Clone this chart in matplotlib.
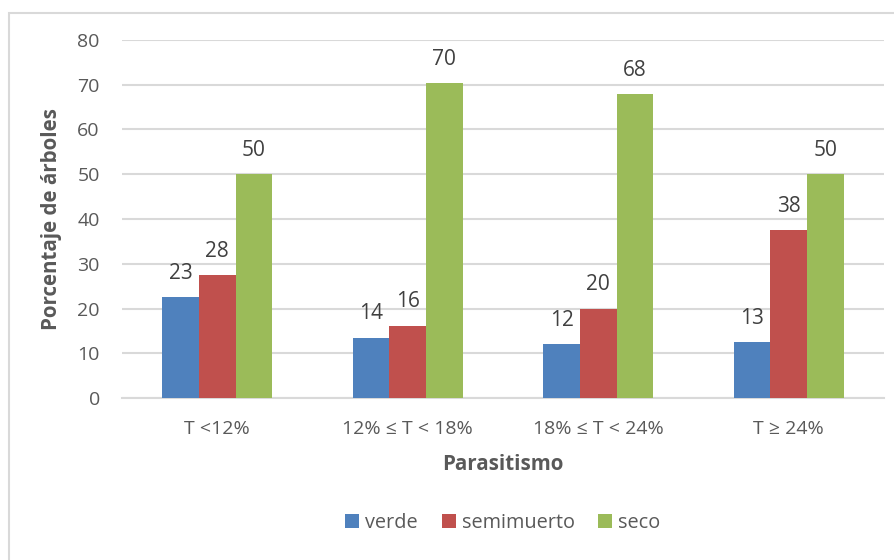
import numpy as np
import matplotlib
matplotlib.use("Agg")
import matplotlib.pyplot as plt
from matplotlib.patches import Rectangle

categories = ["T <12%", "12% \u2264 T < 18%", "18% \u2264 T < 24%", "T \u2265 24%"]
series_names = ["verde", "semimuerto", "seco"]
verde = [22.5, 13.5, 12.0, 12.5]
semimuerto = [27.5, 16.2, 20.0, 37.5]
seco = [50.0, 70.3, 68.0, 50.0]
colors = ["#4F81BD", "#C0504D", "#9BBB59"]
yticks = [0, 10, 20, 30, 40, 50, 60, 70, 80]

plt.rcParams['font.family'] = ['Open Sans', 'DejaVu Sans']

fig = plt.figure(figsize=(8.95, 5.6), dpi=100)
fig.patches.append(Rectangle((8.5/895, -0.1), 1.2, 1 - 13/560 + 0.1, transform=fig.transFigure,
                             fill=False, edgecolor="#D9D9D9", linewidth=1.5))
ax = fig.add_axes([122/895, 1 - 398/560, (884 - 122)/895, (398 - 40)/560])

x = np.arange(len(categories))
w = 0.192
for i, (name, vals) in enumerate(zip(series_names, [verde, semimuerto, seco])):
    pos = x + (i - 1) * w
    ax.bar(pos, vals, width=w, color=colors[i], label=name, zorder=3)
    for px, v in zip(pos, vals):
        ax.annotate(f"{int(np.floor(v + 0.5))}", (px, v), xytext=(0, 17), textcoords="offset points",
                    ha="center", va="center", fontsize=15, color="#404040")

ax.set_xlim(-0.5, len(categories) - 0.5)
ax.set_ylim(0, 80)
ax.set_yticks(yticks)
ax.set_xticks(x)
ax.set_xticklabels(categories)
ax.yaxis.grid(True, color="#D9D9D9", linewidth=1.5, zorder=0)
ax.set_axisbelow(True)
for s in ["top", "right", "left"]:
    ax.spines[s].set_visible(False)
ax.spines["bottom"].set_color("#D9D9D9")
ax.spines["bottom"].set_linewidth(1.5)
ax.tick_params(axis="both", length=0, labelsize=14, labelcolor="#595959")
ax.tick_params(axis="y", pad=16)
ax.tick_params(axis="x", pad=16)

ax.set_ylabel("Porcentaje de \u00e1rboles", fontsize=14.8, fontweight="bold", color="#595959", labelpad=11)
ax.set_xlabel("Parasitismo", fontsize=14.8, fontweight="bold", color="#595959", labelpad=11)

ax.legend(loc="center", bbox_to_anchor=(0.5, -0.35), ncol=3, frameon=False, fontsize=14.3,
          labelcolor="#595959", handlelength=0.7, handleheight=0.7, handletextpad=0.3, columnspacing=1.2)

fig.savefig("out.png", dpi=100)
